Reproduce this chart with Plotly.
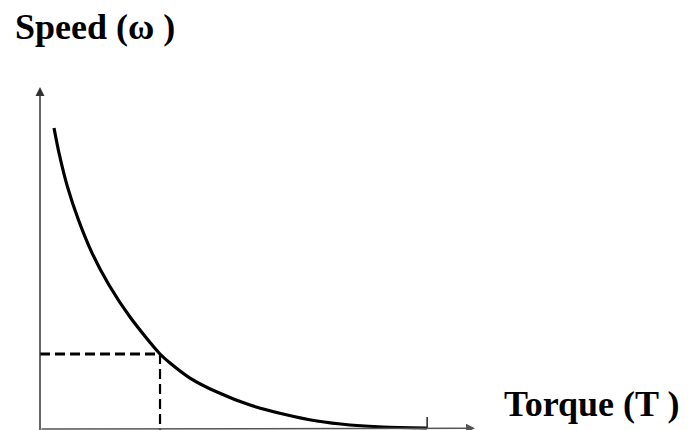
import plotly.graph_objects as go

# Torque / speed curve (arbitrary units, axis tips = 100)
torque = [3.22, 4.37, 6.32, 8.85, 11.95, 15.86, 20.69, 27.59, 29.89, 34.48, 40.69,
          48.28, 55.86, 63.68, 71.26, 78.85, 88.97]
speed = [88.0, 80.7, 70.8, 61.1, 51.5, 42.1, 32.75, 21.93, 19.3, 14.9, 10.8,
         7.0, 4.4, 2.34, 1.17, 0.58, 0.29]

# Operating point marked with dashed lines
op_torque = 27.59
op_speed = 21.93

# Axis extents / tick
axis_torque_max = 100
axis_speed_max = 100
tick_torque = 89.0
tick_height = 3.5

y_title = "Speed (\u03c9 )"
x_title = "Torque (T )"

# page has an 8px body margin, so figure pixels are offset by 8
OFF = 8
W, H = 697, 430
X0 = 40 - OFF      # figure px where T = 0
Y0 = 429 - OFF     # figure py where S = 0
SX = 4.35          # px per torque unit
SY = 3.42          # px per speed unit

fig = go.Figure()

fig.add_trace(go.Scatter(
    x=torque, y=speed, mode="lines",
    line=dict(color="black", width=3.2, shape="spline", smoothing=0.8),
    hoverinfo="skip", showlegend=False))

# dashed lines to operating point
fig.add_trace(go.Scatter(
    x=[0, op_torque], y=[op_speed, op_speed],
    mode="lines", line=dict(color="black", width=3, dash="10px,5px"),
    hoverinfo="skip", showlegend=False))
fig.add_trace(go.Scatter(
    x=[op_torque, op_torque], y=[op_speed, -1],
    mode="lines", line=dict(color="black", width=2.2, dash="10px,5px"),
    hoverinfo="skip", showlegend=False))

# x-axis tick
fig.add_trace(go.Scatter(
    x=[tick_torque, tick_torque], y=[0, tick_height], mode="lines",
    line=dict(color="#222", width=1.5), hoverinfo="skip", showlegend=False))

# axes with arrows
fig.add_annotation(x=0, y=axis_speed_max, ax=0, ay=-1, xref="x", yref="y",
                   axref="x", ayref="y", showarrow=True, arrowhead=2,
                   arrowsize=1.2, arrowwidth=1.5, arrowcolor="#333", text="")
fig.add_annotation(x=axis_torque_max, y=0.2, ax=0, ay=0, xref="x", yref="y",
                   axref="x", ayref="y", showarrow=True, arrowhead=2,
                   arrowsize=1.2, arrowwidth=1.5, arrowcolor="#555", text="")

fig.add_annotation(x=(13 - OFF) / W, y=1 - (27 - OFF) / H, xref="paper", yref="paper",
                   text="<b>" + y_title + "</b>", showarrow=False,
                   xanchor="left", yanchor="middle",
                   font=dict(family="Liberation Serif", size=36, color="black"))
fig.add_annotation(x=(502 - OFF) / W, y=1 - (404 - OFF) / H, xref="paper", yref="paper",
                   text="<b>" + x_title + "</b>", showarrow=False,
                   xanchor="left", yanchor="middle",
                   font=dict(family="Liberation Serif", size=36, color="black"))

fig.update_xaxes(range=[-X0 / SX, (W - X0) / SX], visible=False, fixedrange=True)
fig.update_yaxes(range=[(Y0 - H) / SY, Y0 / SY], visible=False, fixedrange=True)

fig.update_layout(width=W, height=H, margin=dict(l=0, r=0, t=0, b=0),
                  paper_bgcolor="white", plot_bgcolor="white")

fig.write_html("out.html")
